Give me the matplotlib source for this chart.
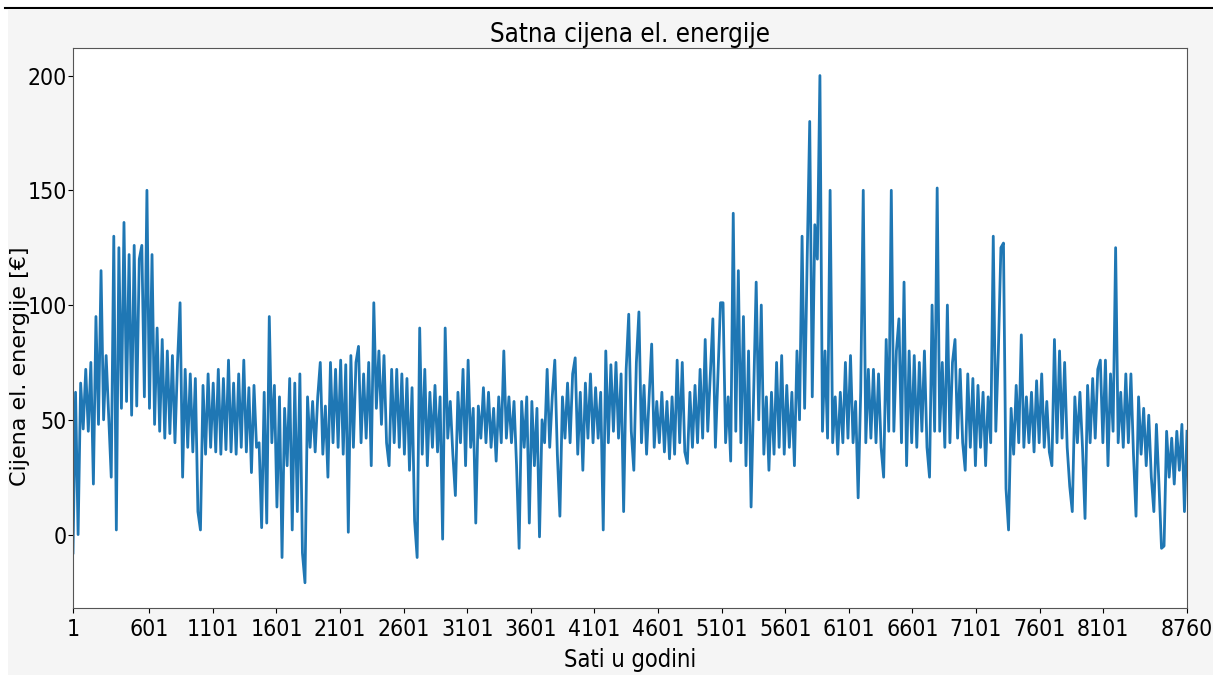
import numpy as np
import matplotlib
matplotlib.use('Agg')
import matplotlib.pyplot as plt
from matplotlib import font_manager
from matplotlib.font_manager import FontProperties
from matplotlib.patches import Rectangle
from matplotlib.lines import Line2D

# hourly price [EUR], every 20 h (troughs / peaks)
price = [
    # hours 1 - 1460
    -8, 62, 0, 66, 46, 72, 45, 75, 22, 95, 48, 115, 50, 78, 52, 25, 130, 2, 125, 55,
    136, 58, 122, 52, 126, 56, 120, 126, 60, 150, 55, 122, 48, 90, 45, 85, 42, 80, 44, 78,
    40, 75, 101, 25, 72, 38, 70, 36, 68, 10, 2, 65, 35, 70, 38, 66, 36, 72, 35, 68,
    37, 76, 36, 66, 35, 70, 38, 76, 36, 64, 27, 65, 38,
    # hours 1460 - 2920
    40, 3, 62, 5, 95, 40, 65, 12, 60, -10, 55, 30, 68, 2, 66, 10, 70, -8, -21, 60,
    38, 58, 36, 60, 75, 35, 56, 25, 75, 40, 72, 38, 76, 35, 74, 1, 78, 38, 75, 82,
    40, 70, 42, 75, 30, 101, 55, 80, 48, 78, 40, 30, 72, 40, 72, 38, 70, 35, 68, 28,
    64, 6, -10, 90, 35, 72, 30, 62, 38, 65, 36, 60, -2,
    # hours 2920 - 4390
    90, 42, 58, 35, 17, 62, 40, 72, 30, 76, 38, 55, 5, 56, 42, 64, 40, 62, 38, 55,
    32, 60, 40, 80, 42, 60, 40, 58, 30, -6, 58, 38, 60, 5, 58, 30, 55, -1, 50, 40,
    72, 38, 60, 76, 35, 8, 60, 42, 66, 40, 70, 77, 35, 62, 28, 66, 42, 70, 40, 64,
    42, 62, 2, 80, 40, 74, 45, 75, 42, 70, 10, 72, 96,
    # hours 4390 - 5850
    45, 28, 75, 97, 40, 65, 35, 60, 83, 38, 58, 40, 62, 36, 58, 33, 60, 35, 76, 40,
    75, 36, 31, 62, 38, 65, 40, 72, 42, 85, 45, 70, 94, 38, 70, 101, 101, 40, 60, 32,
    140, 45, 115, 40, 95, 30, 80, 12, 60, 110, 50, 100, 35, 60, 28, 62, 35, 75, 38, 78,
    35, 65, 38, 62, 30, 80, 50, 130, 55, 120, 180, 60, 135,
    # hours 5850 - 7310
    120, 200, 45, 80, 42, 150, 40, 60, 35, 62, 40, 75, 42, 78, 40, 58, 16, 62, 150, 40,
    72, 42, 72, 40, 70, 38, 25, 85, 45, 150, 45, 80, 94, 40, 110, 30, 80, 40, 78, 38,
    75, 45, 80, 38, 25, 100, 45, 151, 45, 75, 38, 100, 40, 75, 85, 42, 72, 40, 28, 70,
    38, 68, 30, 65, 38, 62, 30, 60, 40, 130, 45, 80, 125,
    # hours 7310 - 8760
    127, 20, 2, 55, 35, 65, 40, 87, 38, 60, 40, 62, 36, 67, 40, 70, 38, 58, 36, 30,
    85, 40, 80, 42, 75, 38, 21, 10, 60, 40, 62, 38, 7, 65, 40, 68, 42, 72, 76, 40,
    76, 30, 70, 45, 125, 40, 62, 38, 70, 40, 70, 35, 8, 60, 35, 55, 30, 52, 25, 10,
    48, 22, -6, -5, 45, 25, 42, 22, 45, 28, 48, 10, 45,
]
hours = np.linspace(1, 8760, len(price))

xticks = [1, 601, 1101, 1601, 2101, 2601, 3101, 3601, 4101, 4601,
          5101, 5601, 6101, 6601, 7101, 7601, 8101, 8760]
yticks = [0, 50, 100, 150, 200]

# pick the lightest upright condensed / narrow face that is installed
cands = [f for f in font_manager.fontManager.ttflist
         if f.style == 'normal' and ('Condensed' in f.name or 'Narrow' in f.name
                                     or 'condensed' in str(f.stretch))]


def wnum(f):
    w = f.weight
    if isinstance(w, str):
        w = font_manager.weight_dict.get(w, 400)
    return w


cands = [f for f in cands if wnum(f) >= 300]
cands.sort(key=lambda f: abs(wnum(f) - 380))
narrow_file = cands[0].fname if cands else None


def nfont(size):
    if narrow_file:
        return FontProperties(fname=narrow_file, size=size)
    return FontProperties(family='DejaVu Sans', size=size * 0.8)


fig = plt.figure(figsize=(12.13, 6.75), dpi=100, facecolor='white')
# grey page + black rule at the top (as in the screenshot)
fig.patches.append(Rectangle((8 / 1213, 0), 1, 1 - 10 / 675, transform=fig.transFigure,
                             facecolor='#f5f5f5', edgecolor='none', zorder=-10))
fig.lines.append(Line2D([5 / 1213, 1], [1 - 8 / 675, 1 - 8 / 675], transform=fig.transFigure,
                        color='black', lw=1.5))

ax = fig.add_axes([73 / 1213, 1 - 608 / 675, (1187 - 73) / 1213, (608 - 48) / 675])
ax.set_facecolor('white')
ax.plot(hours, price, color='#1f77b4', lw=2.0)

ax.set_xlim(1, 8760)
ax.set_ylim(-32, 212)
ax.set_xticks(xticks)
ax.set_yticks(yticks)
ax.tick_params(axis='y', pad=1)
for s in ax.spines.values():
    s.set_color('#555555')

for lab in ax.get_xticklabels() + ax.get_yticklabels():
    lab.set_fontproperties(nfont(16.5))

ax.set_title('Satna cijena el. energije', fontproperties=nfont(18.5), pad=4)
ax.set_xlabel('Sati u godini', fontproperties=nfont(17), labelpad=5)
ax.set_ylabel('Cijena el. energije [€]', fontsize=16, family='DejaVu Sans')
ax.yaxis.set_label_coords(-0.039, 0.432)

fig.savefig('out.png', dpi=100, facecolor=fig.get_facecolor())
